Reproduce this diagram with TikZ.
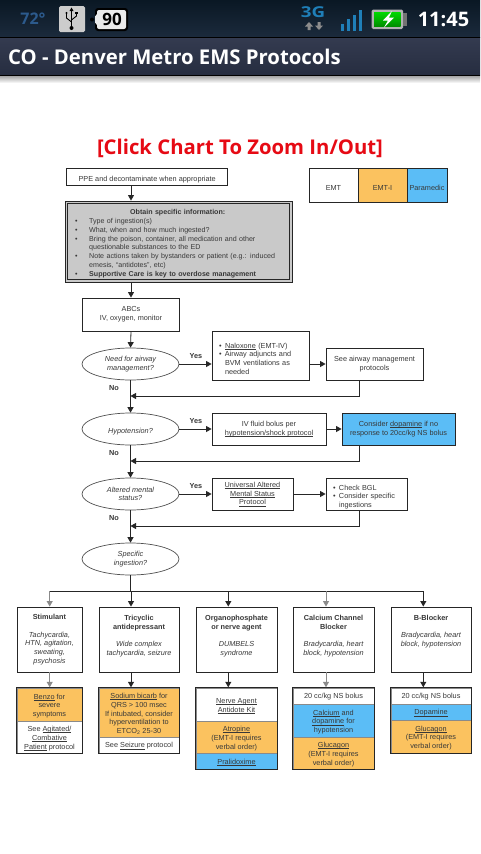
\documentclass[tikz,border=0pt]{standalone}
\usepackage{fontspec}
\usetikzlibrary{arrows.meta,shapes.geometric,fit}
\setmainfont{Liberation Sans}
\newfontfamily\droid{Open Sans}
\definecolor{ink}{HTML}{383838}
\definecolor{lineink}{HTML}{262626}
\definecolor{softline}{HTML}{8A8A8A}
\definecolor{emtorange}{HTML}{FBC25F}
\definecolor{medblue}{HTML}{5BBDF6}
\definecolor{panelgrey}{HTML}{C9C9C9}
\definecolor{sigblue}{HTML}{1F7FB8}
\definecolor{statustop}{HTML}{0A1824}
\definecolor{statusbot}{HTML}{1B2A3C}
\definecolor{titletop}{HTML}{343B50}
\definecolor{titlebot}{HTML}{262D40}
\newcommand{\chartfont}{\fontsize{7.3}{8.75}\selectfont\color{ink}}
\newcommand{\infofont}{\fontsize{7.1}{8.75}\selectfont\color{ink}}
\newcommand{\nudge}{\rule{0pt}{11.5pt}}
\newcommand{\nudgeing}{\rule{0pt}{13pt}}
\newcommand{\nudgelow}{\rule{0pt}{8pt}}
\newsavebox{\ulbox}
\newcommand{\ul}[1]{\leavevmode\sbox{\ulbox}{#1}\rlap{\rule[-1.3pt]{\wd\ulbox}{0.5pt}}\usebox{\ulbox}}
\newcommand{\bul}[1]{\makebox[6pt][l]{•}#1}
\newcommand{\cont}[1]{\hspace*{6pt}#1}
\newcommand{\wbul}[1]{\makebox[14pt][l]{•}#1}
\newcommand{\wcont}[1]{\hspace*{14pt}#1}
\tikzset{
  x=1pt,y=-1pt,
  boxn/.style={draw=lineink,line width=0.9pt,rectangle,inner sep=0pt,align=center,font=\chartfont,execute at begin node=\nudge},
  legendbox/.style={boxn,minimum height=34pt,execute at begin node=\nudgelow},
  listbox/.style={boxn,align=left,inner xsep=7pt,execute at begin node=\relax},
  ingbox/.style={boxn,minimum height=65pt,execute at begin node=\nudgeing},
  decision/.style={draw=lineink!80,line width=0.7pt,ellipse,inner sep=0pt,minimum width=97pt,minimum height=32pt,align=center,font=\chartfont\itshape,execute at begin node=\nudge},
  seg/.style={rectangle,inner sep=0pt,draw=softline,line width=0.5pt},
  segtext/.style={inner sep=0pt,align=center,font=\chartfont},
  frame/.style={rectangle,draw=lineink,line width=0.9pt,inner sep=0pt},
  conn/.style={draw=lineink,line width=0.8pt},
  arr/.style={conn,-{Triangle[length=5.5pt,width=6pt]}},
  softarr/.style={arr,draw=softline},
  tag/.style={font=\chartfont\bfseries,inner sep=0pt},
  headtext/.style={inner sep=0pt,text=white,font=\droid\bfseries},
}
% one cell of a treatment stack: name, fill, width, height, centre x, centre y, drop of the text, text
\newcommand{\stackcell}[8]{%
  \node[seg,fill=#2,minimum width=#3pt,minimum height=#4pt] (#1) at (#5,#6) {};
  \node[segtext] (#1t) at ([yshift=-#7pt]#1.center) {#8};
}
\begin{document}
\begin{tikzpicture}
\useasboundingbox (0,0) rectangle (480,854);
\fill[white] (0,0) rectangle (480,854);
% status bar and title bar
\shade[top color=statustop,bottom color=statusbot] (0,0) rectangle (480,37);
\shade[top color=titletop,bottom color=titlebot] (0,37) rectangle (480,75);
\draw[black,line width=0.8pt] (0,37.3) -- (480,37.3);
\draw[black,line width=1pt] (0,75.3) -- (480,75.3);
\shade[top color=black!35,bottom color=white] (0,76) rectangle (480,83);
\node[inner sep=0pt,font=\droid\bfseries\fontsize{16}{16}\selectfont,text={rgb,255:red,44;green,90;blue,140}] (temp) at (33,19) {72°};
% usb icon
\fill[rounded corners=1.5pt,black!20] (59,6) rectangle (85,32);
\draw[black,line width=1pt] (71.5,10) -- (71.5,27);
\fill[black] (71.5,7.5) -- (69.5,11) -- (73.5,11) -- cycle;
\fill[black] (71.5,28) circle (2pt);
\draw[black,line width=0.9pt] (66.5,14) -- (66.5,18) -- (71.5,22);
\draw[black,line width=0.9pt] (76.5,13) -- (76.5,16) -- (71.5,20);
\fill[black] (66.5,13) circle (1.2pt);
\fill[black] (75.3,11.5) rectangle (77.7,13.5);
% battery-percent badge
\fill[black,rounded corners=3pt] (95,8) rectangle (128,31);
\fill[black] (92,19.5) circle (2pt);
\fill[white!92!black,rounded corners=2pt] (97,10) rectangle (126,29);
\fill[white!92!black] (95,16.5) -- (97,14) -- (97,25) -- (95,22.5) -- cycle;
\node[inner sep=0pt,font=\droid\bfseries\fontsize{17}{17}\selectfont,text=black] (badge) at (112,19.5) {90};
% 3G
\node[inner sep=0pt,font=\droid\bfseries\fontsize{15}{15}\selectfont,text=sigblue,xscale=1.25] (tg) at (313,12.5) {3G};
\fill[black!45] (309,22) -- (305,26.5) -- (307.5,26.5) -- (307.5,30) -- (310.5,30) -- (310.5,26.5) -- (313,26.5) -- cycle;
\fill[black!45] (319,30) -- (315,25.5) -- (317.5,25.5) -- (317.5,22) -- (320.5,22) -- (320.5,25.5) -- (323,25.5) -- cycle;
\fill[sigblue] (341,24) rectangle (343.5,31);
\fill[sigblue] (347,19) rectangle (349.5,31);
\fill[sigblue] (353,15) rectangle (355.5,31);
\fill[sigblue] (359,10) rectangle (362,31);
% battery
\fill[black!30,rounded corners=1.5pt] (371.5,9.5) rectangle (403,29);
\fill[black!55] (403,13) rectangle (407,26);
\shade[top color=green!85!black,bottom color=green!55!black] (374,12) rectangle (400.5,26.5);
\fill[white] (392,11) -- (383,20.5) -- (388,20.5) -- (384,27.5) -- (394,17.5) -- (389,17.5) -- cycle;
\node[headtext,font=\droid\bfseries\fontsize{20}{20}\selectfont] (clock) at (443.5,19) {11:45};
\node[headtext,anchor=west,font=\droid\bfseries\fontsize{20.3}{23}\selectfont] (title) at (8,57) {CO - Denver Metro EMS Protocols};
\node[inner sep=0pt,text={rgb,255:red,230;green,10;blue,20},font=\droid\bfseries\fontsize{20.3}{22}\selectfont] (zoomnote) at (240,148) {[Click Chart To Zoom In/Out]};

% legend
\node[legendbox,minimum width=49pt] (lgA) at (333.5,185) {EMT};
\node[legendbox,fill=emtorange,minimum width=49pt] (lgB) at (382.5,185) {EMT-I};
\node[legendbox,fill=medblue,minimum width=40pt] (lgC) at (427,185) {Paramedic};

% top of the chart
\node[boxn,minimum width=161pt,minimum height=17pt] (ppe) at (147.2,176.5) {PPE and decontaminate when appropriate};
\node[boxn,fill=panelgrey,minimum width=227pt,minimum height=81pt,line width=0.9pt] (info) at (178.5,241.5) {};
\draw[lineink,line width=0.9pt] (67.5,203.5) rectangle (289.5,279.5);
\node[inner sep=0pt,align=left,anchor=north west,font=\infofont,text width=210pt] (infotext) at (75,209.5) {%
\hspace*{55pt}\textbf{Obtain specific information:}\\
\wbul{Type of ingestion(s)}\\
\wbul{What, when and how much ingested?}\\
\wbul{Bring the poison, container, all medication and other}\\
\wcont{questionable substances to the ED}\\
\wbul{Note actions taken by bystanders or patient (e.g.: induced}\\
\wcont{emesis, “antidotes”, etc)}\\
\wbul{\textbf{Supportive Care is key to overdose management}}};
\node[boxn,minimum width=96.5pt,minimum height=33pt] (abc) at (131,314.5) {ABCs\\IV, oxygen, monitor};

% decisions
\node[decision] (d1) at (130.5,364) {Need for airway\\management?};
\node[decision] (d2) at (130.5,429) {Hypotension?};
\node[decision] (d3) at (130.5,494) {Altered mental\\status?};
\node[decision] (d4) at (130.5,559) {Specific\\ingestion?};

% yes branches
\node[listbox,minimum width=97pt,minimum height=49pt,text width=83pt] (nal) at (260.5,355.5) {%
\bul{\ul{Naloxone} (EMT-IV)}\\\bul{Airway adjuncts and}\\\cont{BVM ventilations as}\\\cont{needed}};
\node[boxn,minimum width=97pt,minimum height=32pt] (air) at (374.5,364) {See airway management\\protocols};
\node[boxn,minimum width=114pt,minimum height=32pt] (ivf) at (269,429) {IV fluid bolus per\\\ul{hypotension/shock protocol}};
\node[boxn,fill=medblue,minimum width=113pt,minimum height=32pt] (dop) at (398.5,429) {Consider \ul{dopamine} if no\\response to 20cc/kg NS bolus};
\node[boxn,minimum width=81pt,minimum height=32pt] (ams) at (252.5,494) {\ul{Universal Altered}\\\ul{Mental Status}\\\ul{Protocol}};
\node[listbox,minimum width=81pt,minimum height=32pt,text width=67pt] (bgl) at (366.5,494) {%
\bul{Check BGL}\\\bul{Consider specific}\\\cont{ingestions}};

% merge and bus points
\coordinate (m1) at (359,396);
\coordinate (m2) at (359,461);
\coordinate (m3) at (359,526);
\coordinate (bus) at (131,591);
\coordinate (cA) at (49.7,591);
\coordinate (cB) at (131,591);
\coordinate (cC) at (228.3,591);
\coordinate (cD) at (326,591);
\coordinate (cE) at (423.3,591);

% ingestion columns
\node[ingbox,minimum width=65pt] (ingA) at (49.5,639.5) {\textbf{Stimulant}\\[8.75pt]\itshape Tachycardia,\\\itshape HTN, agitation,\\\itshape sweating,\\\itshape psychosis};
\node[ingbox,minimum width=80pt] (ingB) at (139,639.5) {\textbf{Tricyclic}\\\textbf{antidepressant}\\[8.75pt]\itshape Wide complex\\\itshape tachycardia, seizure\\~};
\node[ingbox,minimum width=81pt] (ingC) at (236.5,639.5) {\textbf{Organophosphate}\\\textbf{or nerve agent}\\[8.75pt]\itshape DUMBELS\\\itshape syndrome\\~};
\node[ingbox,minimum width=81pt] (ingD) at (333.5,639.5) {\textbf{Calcium Channel}\\\textbf{Blocker}\\[8.75pt]\itshape Bradycardia, heart\\\itshape block, hypotension\\~};
\node[ingbox,minimum width=80pt] (ingE) at (431,639.5) {\textbf{B-Blocker}\\[8.75pt]\itshape Bradycardia, heart\\\itshape block, hypotension\\~\\~};

% treatment stacks
\stackcell{a1}{emtorange}{65}{33}{49.5}{704.5}{1.5}{\ul{Benzo} for\\severe\\symptoms}
\stackcell{a2}{white}{65}{32}{49.5}{737}{1.5}{See \ul{Agitated/}\\\ul{Combative}\\\ul{Patient} protocol}
\node[frame,fit=(a1)(a2)] (stackA) {};

\stackcell{b1}{emtorange}{80}{49}{139}{712.5}{1.5}{\ul{Sodium bicarb} for\\QRS > 100 msec\\If intubated, consider\\hyperventilation to\\ETCO\textsubscript{2} 25-30}
\stackcell{b2}{white}{80}{16}{139}{745}{1}{See \ul{Seizure} protocol}
\node[frame,fit=(b1)(b2)] (stackB) {};

\stackcell{c1}{white}{81}{33}{236.5}{704.5}{1.5}{\ul{Nerve Agent}\\\ul{Antidote Kit}}
\stackcell{c2}{emtorange}{81}{32}{236.5}{737}{1.5}{\ul{Atropine}\\(EMT-I requires\\verbal order)}
\stackcell{c3}{medblue}{81}{16}{236.5}{761}{1}{\ul{Pralidoxime}}
\node[frame,fit=(c1)(c2)(c3)] (stackC) {};

\stackcell{e1}{white}{81}{16}{333.5}{696}{1}{20 cc/kg NS bolus}
\stackcell{e2}{medblue}{81}{33}{333.5}{720.5}{1.5}{\ul{Calcium} and\\\ul{dopamine} for\\hypotension}
\stackcell{e3}{emtorange}{81}{32}{333.5}{753}{1.5}{\ul{Glucagon}\\(EMT-I requires\\verbal order)}
\node[frame,fit=(e1)(e2)(e3)] (stackD) {};

\stackcell{f1}{white}{80}{16}{431}{696}{1}{20 cc/kg NS bolus}
\stackcell{f2}{medblue}{80}{16}{431}{712}{1}{\ul{Dopamine}}
\stackcell{f3}{emtorange}{80}{33}{431}{736.5}{1.5}{\ul{Glucagon}\\(EMT-I requires\\verbal order)}
\node[frame,fit=(f1)(f2)(f3)] (stackE) {};

% labels
\node[tag] (y1) at (196,356) {Yes};
\node[tag] (n1) at (114,388.5) {No};
\node[tag] (y2) at (196,421) {Yes};
\node[tag] (n2) at (114,453.5) {No};
\node[tag] (y3) at (196,486) {Yes};
\node[tag] (n3) at (114,518.5) {No};

% connectors
\draw[arr] (ppe.south -| abc) -- (info.north -| abc);
\draw[arr] (info.south -| abc) -- (abc.north);
\draw[arr] (abc.south) -- (d1.north);
\draw[arr] (d1.south) -- (d2.north);
\draw[arr] (d2.south) -- (d3.north);
\draw[arr] (d3.south) -- (d4.north);
\draw[arr] (d1.east) -- (d1.east -| nal.west);
\draw[arr] (nal.east |- air) -- (air.west);
\draw[arr] (d2.east) -- (ivf.west);
\draw[arr] (ivf.east) -- (dop.west);
\draw[arr] (d3.east) -- (ams.west);
\draw[arr] (ams.east) -- (bgl.west);
\draw[arr] (air.south -| m1) -- (m1) -- (m1 -| d1.south);
\draw[arr] (dop.south -| m2) -- (m2) -- (m2 -| d2.south);
\draw[arr] (bgl.south -| m3) -- (m3) -- (m3 -| d3.south);
\draw[conn] (d4.south) -- (d4.south |- bus);
\draw[conn] (cA) -- (cE);
\draw[softarr] (cA) -- (cA |- ingA.north);
\draw[arr] (cB) -- (cB |- ingB.north);
\draw[arr] (cC) -- (cC |- ingC.north);
\draw[softarr] (cD) -- (cD |- ingD.north);
\draw[arr] (cE) -- (cE |- ingE.north);
\draw[softarr] (cA |- ingA.south) -- (cA |- stackA.north);
\draw[arr] (cB |- ingB.south) -- (cB |- stackB.north);
\draw[arr] (cC |- ingC.south) -- (cC |- stackC.north);
\draw[softarr] (cD |- ingD.south) -- (cD |- stackD.north);
\draw[arr] (cE |- ingE.south) -- (cE |- stackE.north);
\end{tikzpicture}
\end{document}
